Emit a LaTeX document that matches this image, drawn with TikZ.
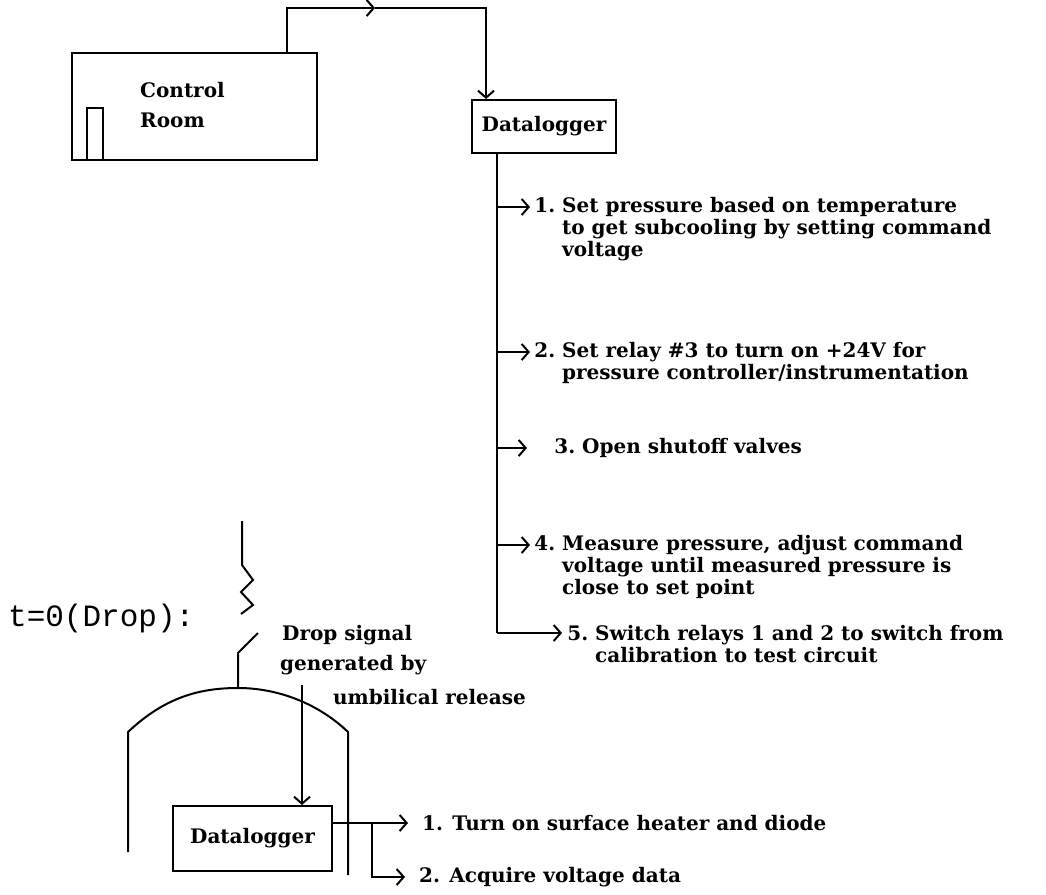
\documentclass[tikz,border=0pt]{standalone}
\usepackage{fontspec}
\setmainfont{DejaVu Serif}
\newfontfamily\dropfont{Liberation Mono}
\usetikzlibrary{arrows.meta}
\tikzset{
  wire/.style={line width=2pt},
  barb/.style={wire,-{Straight Barb[length=7pt,width=16pt]}},
  box/.style={draw,line width=2pt,inner sep=0pt,font=\bfseries\fontsize{20}{22}\selectfont},
  txt/.style={anchor=west,inner sep=0pt,align=left,font=\bfseries\fontsize{20}{22}\selectfont},
}
\begin{document}
\begin{tikzpicture}[x=1pt,y=-1pt]
    \useasboundingbox (0,0) rectangle (1046,894);
    % top part
    \node[box,minimum width=245pt,minimum height=107pt] (croom) at (194.5,106.5) {};
    \node[txt,font=\bfseries\fontsize{20}{30}\selectfont] (crtext) at (140,105) {Control\\Room};
    \node[draw,wire,minimum width=16pt,minimum height=52pt,inner sep=0pt,anchor=south west] (door) at (croom.south west) [xshift=15pt] {};
    \node[box,minimum width=144pt,minimum height=53pt] (dl1) at (544,126.5) {Datalogger};
    \coordinate (c1) at (287,8);
    \coordinate (c2) at (486,8);
    \coordinate (mid) at (375,8);
    \draw[barb] (croom.north -| c1) -- (c1) -- (mid);
    \draw[barb] (mid) -- (c2) -- (c2 |- dl1.north);
    % steps before the drop
    \coordinate (spine) at (497,633);
    \coordinate (a1) at (530,207);
    \coordinate (a2) at (530,352);
    \coordinate (a3) at (527,448);
    \coordinate (a4) at (530,545);
    \coordinate (a5) at (562,633);
    \draw[wire] (dl1.south -| spine) -- (spine);
    \draw[barb] (spine |- a1) -- (a1);
    \draw[barb] (spine |- a2) -- (a2);
    \draw[barb] (spine |- a3) -- (a3);
    \draw[barb] (spine |- a4) -- (a4);
    \draw[barb] (spine) -- (a5);
    \node[txt] (s1) at (562,229) {\llap{1.\ }Set pressure based on temperature\\to get subcooling by setting command\\voltage};
    \node[txt] (s2) at (562,363) {\llap{2.\ }Set relay \#3 to turn on +24V for\\pressure controller/instrumentation};
    \node[txt] (s3) at (582,448) {\llap{3.\ }Open shutoff valves};
    \node[txt] (s4) at (562,567) {\llap{4.\ }Measure pressure, adjust command\\voltage until measured pressure is\\close to set point};
    \node[txt] (s5) at (595,644) {\llap{5.\ }Switch relays 1 and 2 to switch from\\calibration to test circuit};
    % drop
    \node[anchor=west,inner sep=0pt,font=\dropfont\fontsize{31}{31}\selectfont] (drop) at (8,618) {t=0(Drop):};
    \draw[wire] (242,521) -- (242,565) -- (253,580) -- (241,592) -- (253,605) -- (241,614);
    \draw[wire] (258,633) -- (238,653) -- (238,688);
    \draw[wire] (128,852) -- (128,732) .. controls (165,697) and (200,688) .. (238,688)
        .. controls (280,688) and (320,705) .. (348,732) -- (348,875);
    \node[txt] (ds1) at (282,635) {Drop signal};
    \node[txt] (ds2) at (280,665) {generated by};
    \node[txt] (ds3) at (333,697) {umbilical release};
    \node[box,minimum width=159pt,minimum height=65pt] (dl2) at (252.5,838.5) {Datalogger};
    \coordinate (rel) at (302,685);
    \draw[barb] (rel) -- (rel |- dl2.north);
    \coordinate (b1) at (408,823);
    \coordinate (br) at (372,823);
    \coordinate (b2) at (405,877);
    \draw[barb] (dl2.east |- b1) -- (b1);
    \draw[barb] (br) -- (br |- b2) -- (b2);
    \node[txt] (t1) at (422,823) {1. Turn on surface heater and diode};
    \node[txt] (t2) at (419,877) {2. Acquire voltage data};
\end{tikzpicture}
\end{document}
